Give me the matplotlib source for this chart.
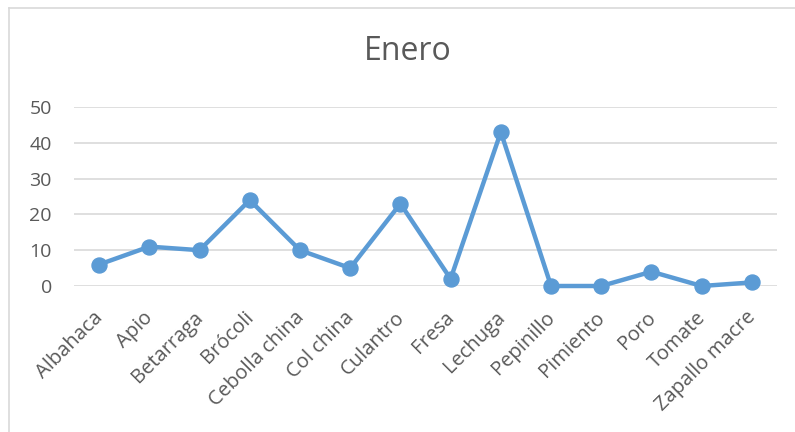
import matplotlib
matplotlib.use("Agg")
import matplotlib.pyplot as plt
from matplotlib.lines import Line2D
from matplotlib.transforms import ScaledTranslation

categories = ["Albahaca", "Apio", "Betarraga", "Brócoli", "Cebolla china", "Col china",
              "Culantro", "Fresa", "Lechuga", "Pepinillo", "Pimiento", "Poro", "Tomate",
              "Zapallo macre"]
values = [6, 11, 10, 24, 10, 5, 23, 2, 43, 0, 0, 4, 0, 1]
yticks = [0, 10, 20, 30, 40, 50]
title = "Enero"

plt.rcParams['font.family'] = ['Open Sans', 'DejaVu Sans']

W, H = 795, 432
fig = plt.figure(figsize=(W / 100, H / 100), dpi=100)
fig.patch.set_facecolor("white")

# chart frame (light gray border on top and left)
border = "#D9D9D9"
fig.add_artist(Line2D([8.5 / W, 1.0], [1 - 7.5 / H, 1 - 7.5 / H], color=border, lw=1.2))
fig.add_artist(Line2D([8.5 / W, 8.5 / W], [0, 1 - 7.5 / H], color=border, lw=1.2))

left, right = 74 / W, 777 / W
bottom, top = 1 - 286 / H, 1 - 107 / H
ax = fig.add_axes([left, bottom, right - left, top - bottom])

x = list(range(len(categories)))
ax.plot(x, values, color="#5B9BD5", lw=3.2, marker="o", markersize=10.8,
        solid_joinstyle="round", zorder=3, clip_on=False)

ax.set_xlim(-0.5, len(categories) - 0.5)
ax.set_ylim(0, 50)
ax.set_yticks(yticks)
ax.set_xticks(x)
ax.set_xticklabels(categories, rotation=45, ha="right", rotation_mode="anchor")
ax.yaxis.grid(True, color="#D9D9D9", lw=1.2)
ax.set_axisbelow(True)
for s in ax.spines.values():
    s.set_visible(False)
ax.tick_params(axis="both", length=0, colors="#595959")
ax.tick_params(axis="y", pad=16, labelsize=14)
ax.tick_params(axis="x", pad=9, labelsize=14.5)

# nudge rotated category labels slightly down-left
shift = ScaledTranslation(-0.06, -0.09, fig.dpi_scale_trans)
for lbl in ax.get_xticklabels():
    lbl.set_transform(lbl.get_transform() + shift)

fig.text(408 / W, 1 - 51 / H, title, ha="center", va="center", fontsize=23, color="#595959")

fig.savefig("out.png", dpi=100)
